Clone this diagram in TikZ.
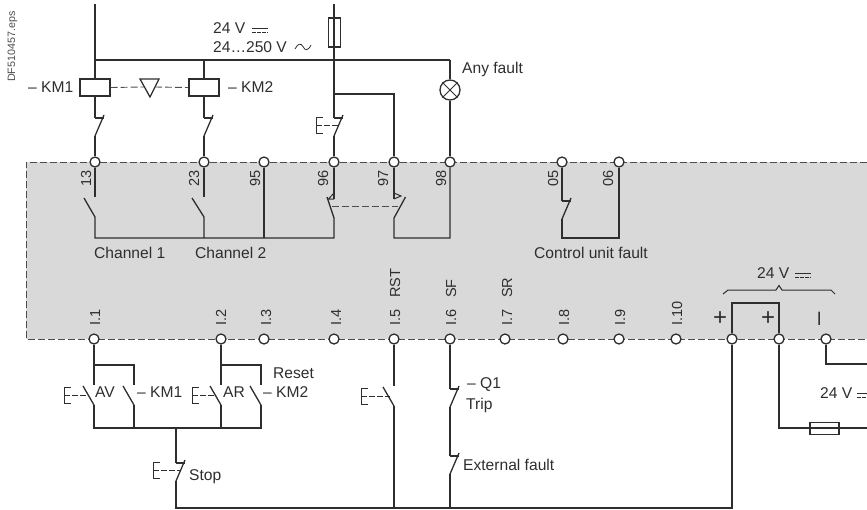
\documentclass[tikz,border=0pt]{standalone}
\usepackage{fontspec}
\setmainfont{Liberation Sans}
\definecolor{ink}{HTML}{2E2E2E}
\definecolor{panel}{HTML}{D9D9D9}
\tikzset{
  wire/.style={draw=ink,line width=1.3pt},
  thin wire/.style={draw=ink,line width=1pt},
  link/.style={draw=ink!85,line width=0.9pt,dash pattern=on 7pt off 3pt},
  term/.style={circle,draw=ink,fill=white,line width=1.3pt,minimum size=10pt,inner sep=0pt},
  box/.style={rectangle,draw=ink,fill=white,line width=1.3pt,inner sep=0pt},
  lbl/.style={anchor=base west,inner sep=0pt,text=ink,font=\fontsize{15.6}{16}\selectfont},
  vlbl/.style={anchor=base west,inner sep=0pt,text=ink,rotate=90,font=\fontsize{14.5}{15}\selectfont},
  sign/.style={inner sep=0pt,text=ink,font=\fontsize{24}{25}\selectfont},
}
% normally open contact: name, x, y of top
\newcommand{\contactNO}[3]{%
  \coordinate (#1a) at (#2,#3);
  \coordinate (#1b) at (#2,#3+20);
  \draw[wire] (#2,#3+1) ++(-11,0) -- ++(11,19);
}
% normally closed contact: name, x, y of top
\newcommand{\contactNC}[3]{%
  \coordinate (#1a) at (#2,#3);
  \coordinate (#1b) at (#2,#3+18);
  \draw[wire] (#2,#3) -- ++(8.5,0);
  \draw[wire] (#2,#3+18) -- ++(9,-21);
}
% push button: x, y of top, dash end offset
\newcommand{\pushbtn}[3]{%
  \draw[thin wire] (#1,#2) ++(7,0) -- ++(-7,0) -- ++(0,16) -- ++(7,0);
  \draw[thin wire,dash pattern=on 6pt off 2pt] (#1,#2) ++(0,8) -- ++(#3,0);
}
% DC symbol: x, y of solid line, length
\newcommand{\dcsym}[3]{%
  \draw[thin wire,line width=0.7pt] (#1,#2) -- ++(#3,0);
  \draw[thin wire,line width=0.7pt,dash pattern=on 3.5pt off 1.5pt] (#1,#2) ++(0,4) -- ++(#3,0);
}
\begin{document}
\begin{tikzpicture}[x=1pt,y=-1pt]
\useasboundingbox (0,0) rectangle (867,509);
% panel
\fill[panel] (26,162) rectangle (867,339);
\draw[link] (867,162) -- (26,162) -- (26,339) -- (867,339);
% terminals
\foreach \n/\x in {13/95,23/204,95/264,96/334,97/394,98/450,05/562,06/619}
  \node[term] (t\n) at (\x,162) {};
\foreach \n/\x in {i1/94,i2/221,i3/264,i4/334,i5/394,i6/450,i7/505,i8/563,i9/619,i10/676,pa/732,pb/779,mn/826}
  \node[term] (t\n) at (\x,339) {};
% supply
\coordinate (supL) at (95,4);
\coordinate (supF) at (334,4);
\coordinate (busL) at (95,60);
\coordinate (busK2) at (204,60);
\coordinate (busR) at (450,60);
\node[box,minimum width=30pt,minimum height=17pt] (km1) at (95,87.5) {};
\node[box,minimum width=30pt,minimum height=17pt] (km2) at (204,87.5) {};
\contactNC{ck1}{95}{118}
\contactNC{ck2}{204}{118}
\contactNC{cf}{334}{118}
\pushbtn{316}{117}{22}
\draw[wire] (supL) -- (km1) (km1) -- (ck1a) (ck1b) -- (t13);
\draw[wire] (busL) -- (busR);
\draw[wire] (busK2) -- (km2) (km2) -- (ck2a) (ck2b) -- (t23);
\coordinate (j94) at (334,94);
\draw[wire] (j94) -- (j94-|t97) -- (t97);
\draw[wire] (supF) -- (cfa) (cfb) -- (t96);
\node[box,fill=none,minimum width=12pt,minimum height=29pt] (fuse1) at (334.5,32.5) {};
% mechanical link KM1 - KM2
\coordinate (triL) at (140,79);
\coordinate (triR) at (159,79);
\coordinate (triB) at (150,97);
\draw[wire] (triL) -- (triR) -- (triB) -- cycle;
\coordinate (triLm) at (144,87);
\coordinate (triRm) at (155,87);
\draw[link] (km1.east) -- (triLm);
\draw[link] (triRm) -- (km2.west);
% lamp
\node[circle,draw=ink,line width=1.3pt,minimum size=20pt,inner sep=0pt,fill=white] (lamp) at (450,90) {};
\draw[wire,line width=1pt] (lamp.north west) -- (lamp.south east) (lamp.north east) -- (lamp.south west);
\draw[wire] (busR) -- (lamp) (lamp) -- (t98);
% relay outputs
\coordinate (c13) at (95,197);
\coordinate (c23) at (204,197);
\coordinate (c96) at (334,199);
\coordinate (c97) at (394,199);
\coordinate (b13) at (95,217);
\coordinate (b23) at (204,217);
\coordinate (b96) at (334,218);
\coordinate (b97) at (394,218);
\coordinate (n13) at (95,238);
\coordinate (n23) at (204,238);
\coordinate (n95) at (264,238);
\coordinate (n96) at (334,238);
\coordinate (n97) at (394,238);
\coordinate (n98) at (450,238);
\draw[wire] (t13) -- (c13);
\draw[wire] (t23) -- (c23);
\draw[wire] (84,198) -- (b13) -- (n13) -- (n96) -- (b96) -- (327,197);
\draw[wire] (192,198) -- (b23) -- (n23);
\draw[wire] (t95) -- (n95);
\draw[wire] (t96) -- (c96);
\draw[wire] (t97) -- (c97);
\draw[wire] (t98) -- (n98) -- (n97) -- (b97) -- (405.5,197);
\draw[thin wire] (c96) -- (328.5,199) -- (334,193);
\draw[thin wire] (394,193) -- (401,196) -- (c97);
\draw[link] (332,206) -- (398,206);
% control unit fault
\contactNC{c05}{562}{201}
\coordinate (n05) at (562,238);
\coordinate (n06) at (619,238);
\draw[wire] (t05) -- (c05a) (c05b) -- (n05) -- (n06) -- (t06);
% inputs
\contactNO{cav}{94}{385}
\contactNO{ck1n}{134}{385}
\contactNO{car}{221}{385}
\contactNO{ck2n}{261}{385}
\contactNC{cstop}{176}{463}
\contactNO{crst}{394}{386}
\contactNC{cq1}{450}{389}
\contactNC{cext}{450}{456}
\pushbtn{64}{387}{23}
\pushbtn{192}{387}{24}
\pushbtn{153}{462}{27}
\pushbtn{361}{388}{29}
\coordinate (r1) at (94,365);
\coordinate (r2) at (221,365);
\coordinate (lb) at (94,428);
\coordinate (rb) at (261,428);
\coordinate (stopT) at (176,428);
\coordinate (botL) at (176,508);
\coordinate (botR) at (732,508);
\draw[wire] (ti1) -- (cava) (r1) -- (r1-|ck1na) -- (ck1na);
\draw[wire] (ti2) -- (cara) (r2) -- (r2-|ck2na) -- (ck2na);
\draw[wire] (cavb) -- (lb) -- (rb) -- (ck2nb);
\draw[wire] (ck1nb) -- (ck1nb|-lb) (carb) -- (carb|-lb);
\draw[wire] (stopT) -- (cstopa) (cstopb) -- (botL) -- (botR) -- (tpa);
\draw[wire] (ti5) -- (crsta) (crstb) -- (crstb|-botR);
\draw[wire] (ti6) -- (cq1a) (cq1b) -- (cexta) (cextb) -- (cextb|-botR);
% 24 V supply strap
\coordinate (sa) at (732,303);
\coordinate (sb) at (779,303);
\draw[wire] (tpa) -- (sa) -- (sb) -- (tpb);
\coordinate (mnc) at (826,364);
\coordinate (mne) at (867,364);
\draw[wire] (tmn) -- (mnc) -- (mne);
\coordinate (fc) at (779,428);
\coordinate (fe) at (867,428);
\draw[wire] (tpb) -- (fc) -- (fe);
\node[box,fill=none,minimum width=29pt,minimum height=11.5pt] (fuse2) at (824.5,428.5) {};
\draw[thin wire] (723,294) -- (728,290) -- (776,290) -- (779,285.5) -- (782,290) -- (831,290) -- (835,294);
% vertical labels
\foreach \t/\x in {13/91,23/199,95/260,96/328,97/388,98/446,05/558,06/613}
  \node[vlbl] (l\t) at (\x,187) {\t};
\foreach \t/\x in {I.1/100,I.2/226,I.3/271,I.4/341,I.5/400,I.6/456,I.7/512,I.8/569,I.9/625,I.10/682}
  \node[vlbl] at (\x,326) {\t};
\node[vlbl] (rst) at (400,298) {RST};
\node[vlbl] (sf) at (456,298) {SF};
\node[vlbl] (sr) at (512,298) {SR};
\node[sign] (p1) at (720,319) {+};
\node[sign] (p2) at (768,319) {+};
\node[sign,rotate=90] (m1) at (822,319) {–};
% text
\node[vlbl,text=ink!85,font=\fontsize{10.7}{11}\selectfont] (ref) at (15,82) {DF510457.eps};
\node[lbl] (v1) at (213,33) {24 V};
\dcsym{252}{28}{16}
\node[lbl] (v2) at (213,52) {24…250 V};
\draw[thin wire,line width=0.8pt] (295,49) .. controls (298,43) and (301,43) .. (303,46.5) .. controls (305,51) and (308,51) .. (311,45);
\node[lbl] (af) at (462,73) {Any fault};
\node[lbl] at (28,92) {– KM1};
\node[lbl] at (228,92) {– KM2};
\node[lbl] at (94,258) {Channel 1};
\node[lbl] at (195,258) {Channel 2};
\node[lbl] at (534,258) {Control unit fault};
\node[lbl] at (95,397) {AV};
\node[lbl] at (137,397) {– KM1};
\node[lbl] at (223,397) {AR};
\node[lbl] at (263,397) {– KM2};
\node[lbl] at (273,378) {Reset};
\node[lbl] at (189,480) {Stop};
\node[lbl] at (467,388) {– Q1};
\node[lbl] at (466,409) {Trip};
\node[lbl] at (463,470) {External fault};
\node[lbl] at (757,278) {24 V};
\dcsym{795}{273}{16}
\node[lbl] at (820,398) {24 V};
\dcsym{857}{393}{10}
\end{tikzpicture}
\end{document}
